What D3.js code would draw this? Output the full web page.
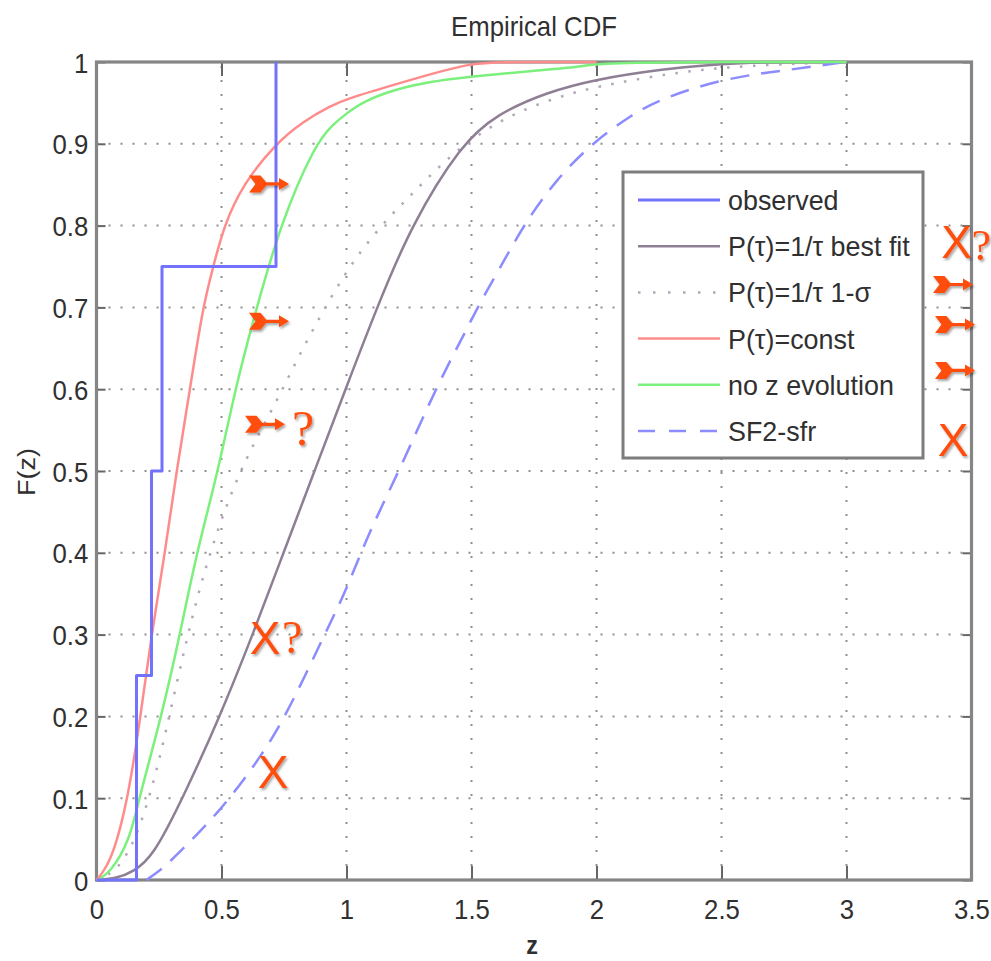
<!DOCTYPE html>
<html>
<head>
<meta charset="utf-8">
<script src="https://cdn.jsdelivr.net/npm/d3@7"></script>
<style>
  html, body { margin: 0; padding: 0; background: #fff; }
  svg { display: block; }
</style>
</head>
<body>
<svg id="chart" width="991" height="961"></svg>
<script>
// ---- data -------------------------------------------------------------
const xTicks = [0, 0.5, 1, 1.5, 2, 2.5, 3, 3.5];
const yTicks = [0, 0.1, 0.2, 0.3, 0.4, 0.5, 0.6, 0.7, 0.8, 0.9, 1];

// observed empirical CDF (step function)
const observedZ = [0, 0.16, 0.22, 0.262, 0.718];
const observedF = [0, 0.25, 0.5, 0.75, 1.0];

// P(tau)=1/tau best fit
const bestFitZ = [0, 0.08, 0.147, 0.227, 0.345, 0.494, 0.625, 0.748, 0.872, 0.996, 1.122, 1.258, 1.46, 1.6, 1.8, 2.0, 2.254, 2.55, 3.0];
const bestFitF = [0, 0.002, 0.01, 0.029, 0.1, 0.2, 0.3, 0.4, 0.5, 0.6, 0.7, 0.8, 0.9, 0.936, 0.963, 0.979, 0.991, 1.0, 1.0];

// P(tau)=1/tau 1-sigma
const sigmaZ = [0, 0.08, 0.16, 0.24, 0.32, 0.40, 0.48, 0.56, 0.64, 0.72, 0.80, 0.894, 0.987, 1.067, 1.174, 1.254, 1.32, 1.467, 1.667, 1.867, 1.987, 2.3, 2.6, 3.0];
const sigmaF = [0, 0.01, 0.05, 0.13, 0.24, 0.345, 0.425, 0.49, 0.54, 0.585, 0.635, 0.689, 0.738, 0.773, 0.812, 0.836, 0.857, 0.9, 0.938, 0.959, 0.969, 0.987, 0.996, 1.0];

// P(tau)=const
const constZ = [0, 0.06, 0.127, 0.176, 0.22, 0.274, 0.32, 0.374, 0.425, 0.467, 0.51, 0.585, 0.715, 0.83, 0.934, 1.0, 1.2, 1.334, 1.494, 1.6, 2.0];
const constF = [0, 0.022, 0.1, 0.2, 0.3, 0.4, 0.5, 0.6, 0.7, 0.75, 0.8, 0.85, 0.9, 0.928, 0.946, 0.955, 0.973, 0.985, 0.998, 1.0, 1.0];

// no z evolution
const noEvoZ = [0, 0.054, 0.134, 0.17, 0.26, 0.334, 0.40, 0.487, 0.554, 0.641, 0.734, 0.874, 0.95, 1.0, 1.067, 1.2, 1.334, 1.494, 1.734, 1.974, 2.0, 3.0];
const noEvoF = [0, 0.008, 0.049, 0.1, 0.2, 0.3, 0.4, 0.5, 0.6, 0.7, 0.8, 0.9, 0.925, 0.937, 0.952, 0.967, 0.976, 0.982, 0.989, 0.995, 1.0, 1.0];

// SF2-sfr
const sfrZ = [0.2, 0.254, 0.28, 0.5, 0.667, 0.747, 0.84, 0.934, 0.994, 1.094, 1.214, 1.361, 1.481, 1.534, 1.627, 1.707, 1.84, 1.987, 2.134, 2.254, 2.52, 2.787, 2.97, 3.0];
const sfrF = [0, 0.012, 0.018, 0.085, 0.155, 0.196, 0.253, 0.314, 0.351, 0.428, 0.502, 0.604, 0.673, 0.706, 0.755, 0.8, 0.857, 0.902, 0.934, 0.955, 0.981, 0.991, 0.999, 1.0];

const legendLabels = ["observed", "P(\u03C4)=1/\u03C4 best fit", "P(\u03C4)=1/\u03C4 1-\u03C3", "P(\u03C4)=const", "no z evolution", "SF2-sfr"];

// hand annotations, in data units (z, F)
const arrowMarks = [[0.61, 0.851], [0.61, 0.683], [0.594, 0.557], [3.346, 0.728], [3.354, 0.679], [3.354, 0.623]];
const crossMarks = [[0.674, 0.297], [0.706, 0.133], [3.44, 0.781], [3.426, 0.538]];
const queryMarks = [[0.782, 0.532, 50], [0.742, 0.278, 46], [3.5, 0.758, 44]];

// ---- styles -----------------------------------------------------------
const seriesStyle = [
  { color: "#7272ff", width: 3,   dash: null },
  { color: "#8e7f94", width: 2.5, dash: null },
  { color: "#b3a6ba", width: 2.5, dash: "2.5,10.5" },
  { color: "#ff8c8c", width: 2.5, dash: null },
  { color: "#7cf07c", width: 2.5, dash: null },
  { color: "#8c8cff", width: 2.5, dash: "19,12" }
];
const FONT = "'Liberation Sans', Arial, Helvetica, sans-serif";
const TXT = "#303030";
const ANNO = "#ff4d0a";

// ---- layout -----------------------------------------------------------
const svg = d3.select("#chart");
const x = d3.scaleLinear().domain([0, 3.5]).range([96.5, 971.5]);
const y = d3.scaleLinear().domain([0, 1]).range([880, 62]);
const [x0, x1] = x.range();
const [y0, y1] = y.range();

const defs = svg.append("defs");
const shadow = defs.append("filter").attr("id", "shadow")
  .attr("x", "-30%").attr("y", "-30%").attr("width", "160%").attr("height", "160%");
shadow.append("feDropShadow").attr("dx", 1.5).attr("dy", 2).attr("stdDeviation", 1.2)
  .attr("flood-color", "#000").attr("flood-opacity", 0.35);

svg.append("rect").attr("width", 991).attr("height", 961).attr("fill", "#fff");

// grid
const grid = svg.append("g").attr("stroke", "#8f8f8f").attr("stroke-width", 2);
grid.selectAll("line.h").data(yTicks.filter(d => d > 0 && d < 1)).join("line")
  .attr("x1", x0).attr("x2", x1).attr("y1", d => y(d)).attr("y2", d => y(d))
  .attr("stroke-dasharray", "2,10");
grid.selectAll("line.v").data(xTicks.filter(d => d > 0 && d < 3.5)).join("line")
  .attr("y1", y0).attr("y2", y1).attr("x1", d => x(d)).attr("x2", d => x(d))
  .attr("stroke-dasharray", "2,12");

// axes (ticks on all four sides, pointing inward)
const fmt = d => String(d);
const axB = svg.append("g").attr("transform", `translate(0,${y0})`)
  .call(d3.axisBottom(x).tickValues(xTicks).tickFormat(fmt).tickSize(-14).tickSizeOuter(0));
const axT = svg.append("g").attr("transform", `translate(0,${y1})`)
  .call(d3.axisTop(x).tickValues(xTicks).tickFormat("").tickSize(-14).tickSizeOuter(0));
const axL = svg.append("g").attr("transform", `translate(${x0},0)`)
  .call(d3.axisLeft(y).tickValues(yTicks).tickFormat(fmt).tickSize(-9).tickSizeOuter(0));
const axR = svg.append("g").attr("transform", `translate(${x1},0)`)
  .call(d3.axisRight(y).tickValues(yTicks).tickFormat("").tickSize(-9).tickSizeOuter(0));

[axB, axT, axL, axR].forEach(g => {
  g.select(".domain").remove();
  g.selectAll(".tick line").attr("stroke", "#666").attr("stroke-width", 2);
});
axB.selectAll(".tick text")
  .attr("y", 39).attr("dy", null)
  .attr("font-family", FONT).attr("font-size", 28).attr("fill", TXT)
  .attr("transform", "scale(0.92,1)");
axL.selectAll(".tick text")
  .attr("x", -9).attr("dy", null).attr("y", 10)
  .attr("font-family", FONT).attr("font-size", 28).attr("fill", TXT)
  .attr("transform", "scale(0.92,1)");

// plot box
svg.append("rect").attr("x", x0).attr("y", y1).attr("width", x1 - x0).attr("height", y0 - y1)
  .attr("fill", "none").attr("stroke", "#858585").attr("stroke-width", 3.2);

// curves
const smooth = d3.line().x(d => x(d[0])).y(d => y(d[1])).curve(d3.curveBasis);
const steps = d3.line().x(d => x(d[0])).y(d => y(d[1])).curve(d3.curveStepAfter);
const zip = (a, b) => a.map((v, i) => [v, b[i]]);

const series = [
  { pts: zip(observedZ, observedF), gen: steps },
  { pts: zip(bestFitZ, bestFitF), gen: smooth },
  { pts: zip(sigmaZ, sigmaF), gen: smooth },
  { pts: zip(constZ, constF), gen: smooth },
  { pts: zip(noEvoZ, noEvoF), gen: smooth },
  { pts: zip(sfrZ, sfrF), gen: smooth }
];
// draw order: dotted, best fit, dashed, green, red, observed
const order = [2, 1, 5, 4, 3, 0];
const curves = svg.append("g").attr("fill", "none");
order.forEach(i => {
  const s = seriesStyle[i];
  curves.append("path")
    .attr("d", series[i].gen(series[i].pts))
    .attr("stroke", s.color).attr("stroke-width", s.width)
    .attr("stroke-dasharray", s.dash)
    .attr("stroke-linejoin", "round");
});

// legend
const lg = svg.append("g");
const lgX = 623, lgY = 172, lgW = 300, lgH = 286, rowH = 46.2, row0 = 200;
lg.append("rect").attr("x", lgX).attr("y", lgY).attr("width", lgW).attr("height", lgH)
  .attr("fill", "#fff").attr("stroke", "#7d7d7d").attr("stroke-width", 3);
legendLabels.forEach((lab, i) => {
  const s = seriesStyle[i];
  const ly = row0 + i * rowH;
  lg.append("line").attr("x1", 638).attr("x2", 720).attr("y1", ly).attr("y2", ly)
    .attr("stroke", s.color).attr("stroke-width", s.width)
    .attr("stroke-dasharray", i === 5 ? "17,14" : (i === 2 ? "2.5,12.5" : null));
  lg.append("text")
    .attr("transform", `translate(728,${ly + 10}) scale(0.96,1)`)
    .attr("font-family", FONT).attr("font-size", 28).attr("fill", TXT)
    .text(lab);
});

// title and axis labels
svg.append("text").attr("transform", `translate(${(x0 + x1) / 2},36) scale(0.92,1)`)
  .attr("text-anchor", "middle").attr("font-family", FONT).attr("font-size", 28)
  .attr("fill", TXT).text("Empirical CDF");
svg.append("text").attr("transform", `translate(${(x0 + x1) / 2 - 2},954) scale(0.9,1)`)
  .attr("text-anchor", "middle").attr("font-family", FONT).attr("font-size", 26)
  .attr("font-weight", "bold").attr("fill", TXT).text("z");
svg.append("text").attr("transform", "translate(35,472) scale(0.88,1) rotate(-90)")
  .attr("text-anchor", "middle").attr("font-family", FONT).attr("font-size", 27)
  .attr("fill", TXT).text("F(z)");

// hand-drawn annotations
const anno = svg.append("g").attr("filter", "url(#shadow)").attr("fill", ANNO);
arrowMarks.forEach(([zv, fv]) => {
  const ax = x(zv), ay = y(fv);
  const p = d3.path();
  p.moveTo(ax, ay - 8.5); p.lineTo(ax + 11.5, ay - 8.5); p.lineTo(ax + 18.5, ay);
  p.lineTo(ax + 11.5, ay + 8.5); p.lineTo(ax, ay + 8.5); p.lineTo(ax + 6.5, ay); p.closePath();
  p.moveTo(ax + 17, ay - 1.6); p.lineTo(ax + 30, ay - 1.6); p.lineTo(ax + 30, ay - 6);
  p.lineTo(ax + 40, ay); p.lineTo(ax + 30, ay + 6); p.lineTo(ax + 30, ay + 1.6);
  p.lineTo(ax + 17, ay + 1.6); p.closePath();
  anno.append("path").attr("d", p.toString());
});
crossMarks.forEach(([zv, fv]) => {
  anno.append("text").attr("x", x(zv)).attr("y", y(fv) + 16.5)
    .attr("text-anchor", "middle").attr("font-family", FONT).attr("font-size", 46)
    .text("X");
});
queryMarks.forEach(([zv, fv, fs]) => {
  anno.append("text").attr("x", x(zv)).attr("y", y(fv))
    .attr("font-family", "'Liberation Serif', 'Times New Roman', serif").attr("font-size", fs)
    .text("?");
});
</script>
</body>
</html>
